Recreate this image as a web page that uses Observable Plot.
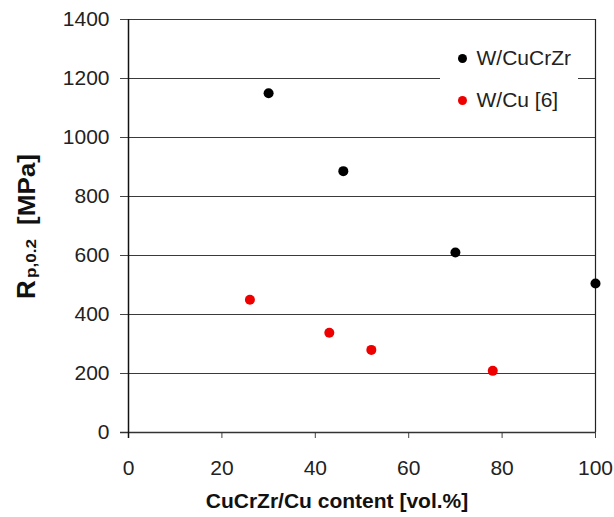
<!DOCTYPE html>
<html>
<head>
<meta charset="utf-8">
<script src="https://cdn.jsdelivr.net/npm/d3@7"></script>
<script src="https://cdn.jsdelivr.net/npm/@observablehq/plot@0.6"></script>
<style>
  html, body { margin: 0; padding: 0; background: #fff; }
</style>
</head>
<body>
<div id="chart"></div>
<script>
// Data
const cucrzrContent = [30, 46, 70, 100];
const cucrzrRp = [1150, 886, 610, 505];
const cuContent = [26, 43, 52, 78];
const cuRp = [450, 338, 280, 209];
const xTicks = [0, 20, 40, 60, 80, 100];
const yTicks = [0, 200, 400, 600, 800, 1000, 1200, 1400];
const seriesNames = ["W/CuCrZr", "W/Cu [6]"];
const seriesColors = ["#000000", "#ee0000"];

const cucrzr = cucrzrContent.map((x, i) => ({x, y: cucrzrRp[i]}));
const cu = cuContent.map((x, i) => ({x, y: cuRp[i]}));

const W = 614, H = 517;
const mL = 128, mR = 19, mT = 19, mB = 85;

const legendGap = (index, scales, values, dims) => {
  const r = document.createElementNS("http://www.w3.org/2000/svg", "rect");
  const right = dims.width - dims.marginRight;
  r.setAttribute("x", right - 155);
  r.setAttribute("y", dims.marginTop + 16);
  r.setAttribute("width", 138);
  r.setAttribute("height", 86);
  r.setAttribute("fill", "#fff");
  return r;
};

const svg = Plot.plot({
  width: W,
  height: H,
  marginLeft: mL,
  marginRight: mR,
  marginTop: mT,
  marginBottom: mB,
  style: {fontFamily: "'Liberation Sans', Arial, sans-serif", fontSize: "21px", color: "#222", background: "#fff", overflow: "visible"},
  x: {domain: [0, 100], ticks: xTicks},
  y: {domain: [0, 1400], ticks: yTicks},
  marks: [
    Plot.ruleY(yTicks.filter(d => d > 0), {stroke: "#3a3a3a", strokeWidth: 1.2}),
    Plot.ruleX([100], {stroke: "#222", strokeWidth: 1.2}),
    legendGap,
    Plot.dot([0], {frameAnchor: "top-right", dx: -133, dy: 39, r: 4.5, fill: seriesColors[0], stroke: "none"}),
    Plot.dot([0], {frameAnchor: "top-right", dx: -133, dy: 81, r: 4.5, fill: seriesColors[1], stroke: "none"}),
    Plot.text([seriesNames[0]], {frameAnchor: "top-right", dx: -119, dy: 39, text: d => d, textAnchor: "start", lineAnchor: "middle", fill: "#222", fontSize: 21}),
    Plot.text([seriesNames[1]], {frameAnchor: "top-right", dx: -119, dy: 81, text: d => d, textAnchor: "start", lineAnchor: "middle", fill: "#222", fontSize: 21}),
    Plot.axisY({ticks: yTicks, tickFormat: d => String(d), tickSize: 8, tickPadding: 11, label: null, stroke: "#444", fill: "#222"}),
    Plot.axisX({ticks: xTicks, tickFormat: d => String(d), tickSize: 6, tickPadding: 22, label: null, stroke: "#444", fill: "#222"}),
    Plot.ruleY([0], {stroke: "#333", strokeWidth: 1.5, insetLeft: -8}),
    Plot.ruleX([0], {stroke: "#111", strokeWidth: 1.5, insetBottom: -6}),
    Plot.dot(cucrzr, {x: "x", y: "y", r: 5, fill: seriesColors[0], stroke: "none"}),
    Plot.dot(cu, {x: "x", y: "y", r: 5, fill: seriesColors[1], stroke: "none"})
  ]
});

// Axis titles
const s = d3.select(svg);
s.append("text")
  .attr("x", 337).attr("y", 508)
  .attr("text-anchor", "middle")
  .attr("font-weight", "bold")
  .attr("font-size", 21)
  .attr("fill", "#111")
  .text("CuCrZr/Cu content [vol.%]");

const yt = s.append("g")
  .attr("transform", "translate(35,0) rotate(-90)")
  .attr("font-weight", "bold")
  .attr("text-anchor", "start")
  .attr("fill", "#111");
// along rotated x: local x = -pageY
yt.append("text").attr("x", -299).attr("y", 0).attr("font-size", 26).text("R");
yt.append("text").attr("x", -278).attr("y", 1).attr("font-size", 15)
  .attr("textLength", 39).attr("lengthAdjust", "spacingAndGlyphs").text("p,0.2");
yt.append("text").attr("x", -225).attr("y", 0).attr("font-size", 24)
  .attr("textLength", 71).attr("lengthAdjust", "spacingAndGlyphs").text("[MPa]");

document.getElementById("chart").appendChild(svg);
</script>
</body>
</html>
